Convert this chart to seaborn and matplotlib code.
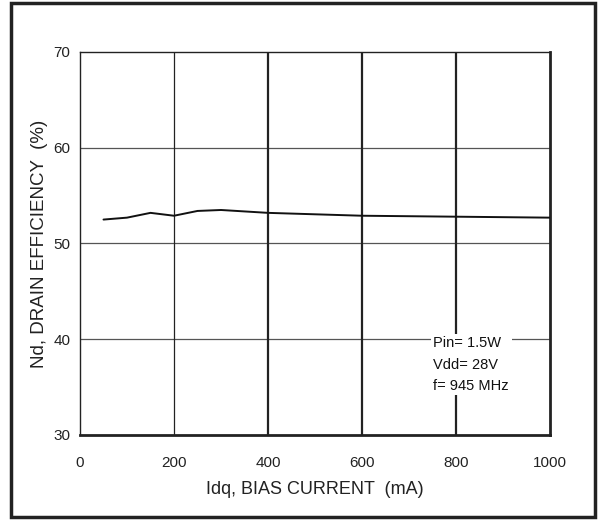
import matplotlib
matplotlib.use("Agg")
import matplotlib.pyplot as plt
import seaborn as sns
import pandas as pd
from matplotlib.patches import Rectangle

idq_ma = [50, 100, 150, 200, 250, 300, 400, 500, 600, 700, 800, 900, 1000]
efficiency = [52.5, 52.7, 53.2, 52.9, 53.4, 53.5, 53.2, 53.05, 52.9, 52.85, 52.8, 52.75, 52.7]
x_ticks = [0, 200, 400, 600, 800, 1000]
y_ticks = [30, 40, 50, 60, 70]
annotation = ["Pin= 1.5W", "Vdd= 28V", "f= 945 MHz"]

sns.set_theme(style="white")
plt.rcParams['font.family'] = ['Liberation Sans', 'DejaVu Sans']

df = pd.DataFrame({"idq": idq_ma, "eff": efficiency})

fig = plt.figure(figsize=(5.99, 5.20), dpi=100)
ax = fig.add_axes([80/599, 1-435/520, 470/599, 383/520])

# grid
for yv in y_ticks[1:-1]:
    ax.axhline(yv, color="#555555", lw=0.9, zorder=1)
for xv in x_ticks[1:-1]:
    ax.axvline(xv, color="#222222", lw=0.9 if xv == 200 else 1.6, zorder=1)

sns.lineplot(data=df, x="idq", y="eff", ax=ax, color="#111111", lw=1.4, zorder=3)

ax.set_xlim(0, 1000)
ax.set_ylim(30, 70)
ax.set_xticks(x_ticks)
ax.set_yticks(y_ticks)
ax.tick_params(axis="both", labelsize=11, colors="#222222", length=0)
ax.tick_params(axis="x", pad=15)
ax.tick_params(axis="y", pad=7)
ax.set_xlabel("Idq, BIAS CURRENT  (mA)", fontsize=13, color="#222222", labelpad=8)
ax.set_ylabel("Nd, DRAIN EFFICIENCY  (%)", fontsize=13.5, color="#222222", labelpad=4)

for side, sp in ax.spines.items():
    sp.set_visible(True)
    sp.set_color("#222222")
    sp.set_linewidth(1.0)
ax.spines["right"].set_linewidth(2.0)
ax.spines["bottom"].set_linewidth(2.0)

ax.text(752, 40.3, "\n".join(annotation), fontsize=10.5,
        family=['Liberation Sans Narrow', 'Liberation Sans', 'DejaVu Sans'],
        ha="left", va="top", multialignment="left", color="#111111", linespacing=1.65,
        bbox=dict(facecolor="white", edgecolor="none", pad=2), zorder=4)

fig.patches.append(Rectangle((11/599, 1-517/520), 584/599, 514/520,
                             transform=fig.transFigure, fill=False,
                             edgecolor="#222222", lw=2.5))

fig.savefig("out.png", dpi=100)
